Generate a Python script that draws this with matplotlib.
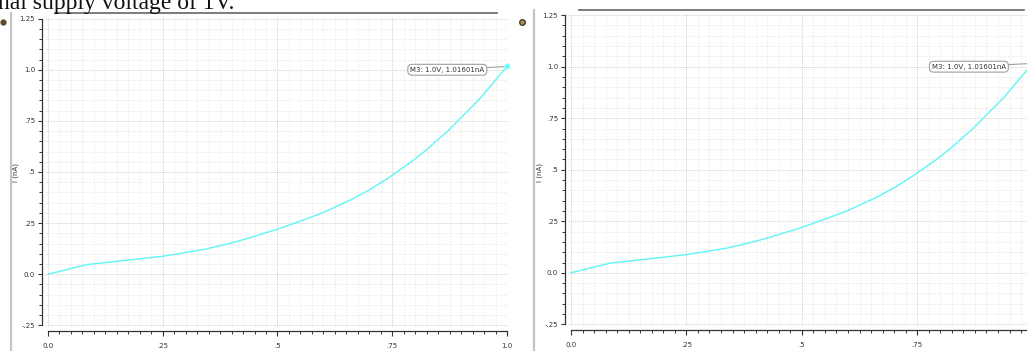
import matplotlib.pyplot as plt
from matplotlib.ticker import MultipleLocator, FixedLocator, FixedFormatter
from matplotlib.lines import Line2D

# DC sweep: voltage (V) vs current (nA), same trace on both panels
v = [0.0, 0.085, 0.25, 0.34, 0.40, 0.43, 0.50, 0.556, 0.60, 0.658, 0.70, 0.745, 0.79, 0.82, 0.87, 0.94, 1.0]
i_na = [0.0, 0.047, 0.088, 0.121, 0.153, 0.172, 0.22, 0.265, 0.302, 0.362, 0.412, 0.476, 0.547, 0.600, 0.698, 0.856, 1.016]

marker_v = 1.0
marker_i = 1.016
marker_text = "M3: 1.0V, 1.01601nA"

x_ticks = [0.0, 0.25, 0.5, 0.75, 1.0]
x_labels = ["0.0", ".25", ".5", ".75", "1.0"]
y_ticks = [-0.25, 0.0, 0.25, 0.5, 0.75, 1.0, 1.25]
y_labels = ["-.25", "0.0", ".25", ".5", ".75", "1.0", "1.25"]

W, H = 1027, 351
fig = plt.figure(figsize=(W / 100, H / 100), dpi=100)
fig.patch.set_facecolor("white")

cyan = "#5ff6f6"


def px_axes(x0, y_top, x1, y_bot):
    return fig.add_axes([x0 / W, 1 - y_bot / H, (x1 - x0) / W, (y_bot - y_top) / H])


def panel(x0, y_top, x1, y_bot, lab_x, yl_x, xlabels):
    ax = px_axes(x0, y_top, x1, y_bot)
    ax.set_xlim(-0.0065, 1.0)
    ax.set_ylim(-0.258, 1.258)
    ax.plot(v, i_na, color=cyan, lw=1.0, zorder=3)
    ax.plot([marker_v], [marker_i], "o", ms=3.5, color=cyan, mec="#9ff", clip_on=False, zorder=4)

    ax.xaxis.set_major_locator(FixedLocator(x_ticks))
    ax.xaxis.set_major_formatter(FixedFormatter(xlabels))
    ax.xaxis.set_minor_locator(MultipleLocator(0.025))
    ax.yaxis.set_major_locator(FixedLocator(y_ticks))
    ax.yaxis.set_major_formatter(FixedFormatter(y_labels))
    ax.yaxis.set_minor_locator(MultipleLocator(0.05))

    ax.grid(True, which="minor", color="#e0e0e0", lw=0.6, ls=(0, (1, 1.5)))
    ax.grid(True, which="major", color="#d4d4d4", lw=0.6, ls=(0, (1.5, 1)))
    ax.set_axisbelow(True)

    for s in ["top", "right"]:
        ax.spines[s].set_visible(False)
    ax.spines["left"].set_position(("outward", 3 * 0.72))
    ax.spines["left"].set_bounds(-0.25, 1.25)
    ax.spines["bottom"].set_position(("outward", 4 * 0.72))
    ax.spines["bottom"].set_bounds(0, 1.0)
    for s in ["left", "bottom"]:
        ax.spines[s].set_color("#333333")
        ax.spines[s].set_linewidth(0.9)

    ax.tick_params(axis="x", which="major", length=3.6, width=0.8, color="#333", pad=5, labelsize=5, labelcolor="#333")
    ax.tick_params(axis="x", which="minor", length=2.2, width=0.7, color="#333")
    ax.tick_params(axis="y", which="major", length=3.0, width=0.8, color="#333", pad=2, labelsize=5, labelcolor="#333")
    ax.tick_params(axis="y", which="minor", length=2.2, width=0.7, color="#333")

    ax.annotate(marker_text, xy=(marker_v, marker_i), xytext=(lab_x, 1.0),
                textcoords="data", fontsize=5, color="#333", ha="center", va="center",
                bbox=dict(boxstyle="round,pad=0.35,rounding_size=0.6", fc="white", ec="#a0a0a0", lw=0.8),
                arrowprops=dict(arrowstyle="-", color="#a0a0a0", lw=0.8, shrinkA=0, shrinkB=2),
                annotation_clip=False, zorder=5)

    fig.text(yl_x / W, 1 - 172 / H, "I (nA)", rotation=90, fontsize=5, color="#333",
             ha="center", va="center")
    return ax


# left panel
panel(45, 17, 507, 327, 0.87, 16, x_labels)
# right panel (runs past the right edge of the screenshot, its 1.0 label is off-frame)
panel(568, 13.5, 1032.6, 326, 0.862, 540, x_labels[:-1] + [""])

# document decorations
fig.text(-2 / W, 1 - 9.5 / H, "nal supply voltage of 1V.", fontsize=17, family="Liberation Serif",
         color="#111", ha="left", va="baseline")
fig.add_artist(Line2D([55 / W, 497 / W], [1 - 13 / H, 1 - 13 / H], color="#666", lw=1.2))
fig.add_artist(Line2D([579 / W, 1024 / W], [1 - 10 / H, 1 - 10 / H], color="#666", lw=1.2))
fig.add_artist(Line2D([11 / W, 11 / W], [0, 1 - 13 / H], color="#c4c4c4", lw=1.6))
fig.add_artist(Line2D([534 / W, 534 / W], [0, 1 - 10 / H], color="#c4c4c4", lw=1.6))
fig.add_artist(Line2D([3 / W], [1 - 22 / H], marker="o", ms=3.5, color="#5a4a2a", mec="#5a4a2a"))
fig.add_artist(Line2D([522 / W], [1 - 22 / H], marker="o", ms=4, color="#a89060", mec="#4a3a1a", mew=1))

fig.savefig("out.png", dpi=100, facecolor="white")
